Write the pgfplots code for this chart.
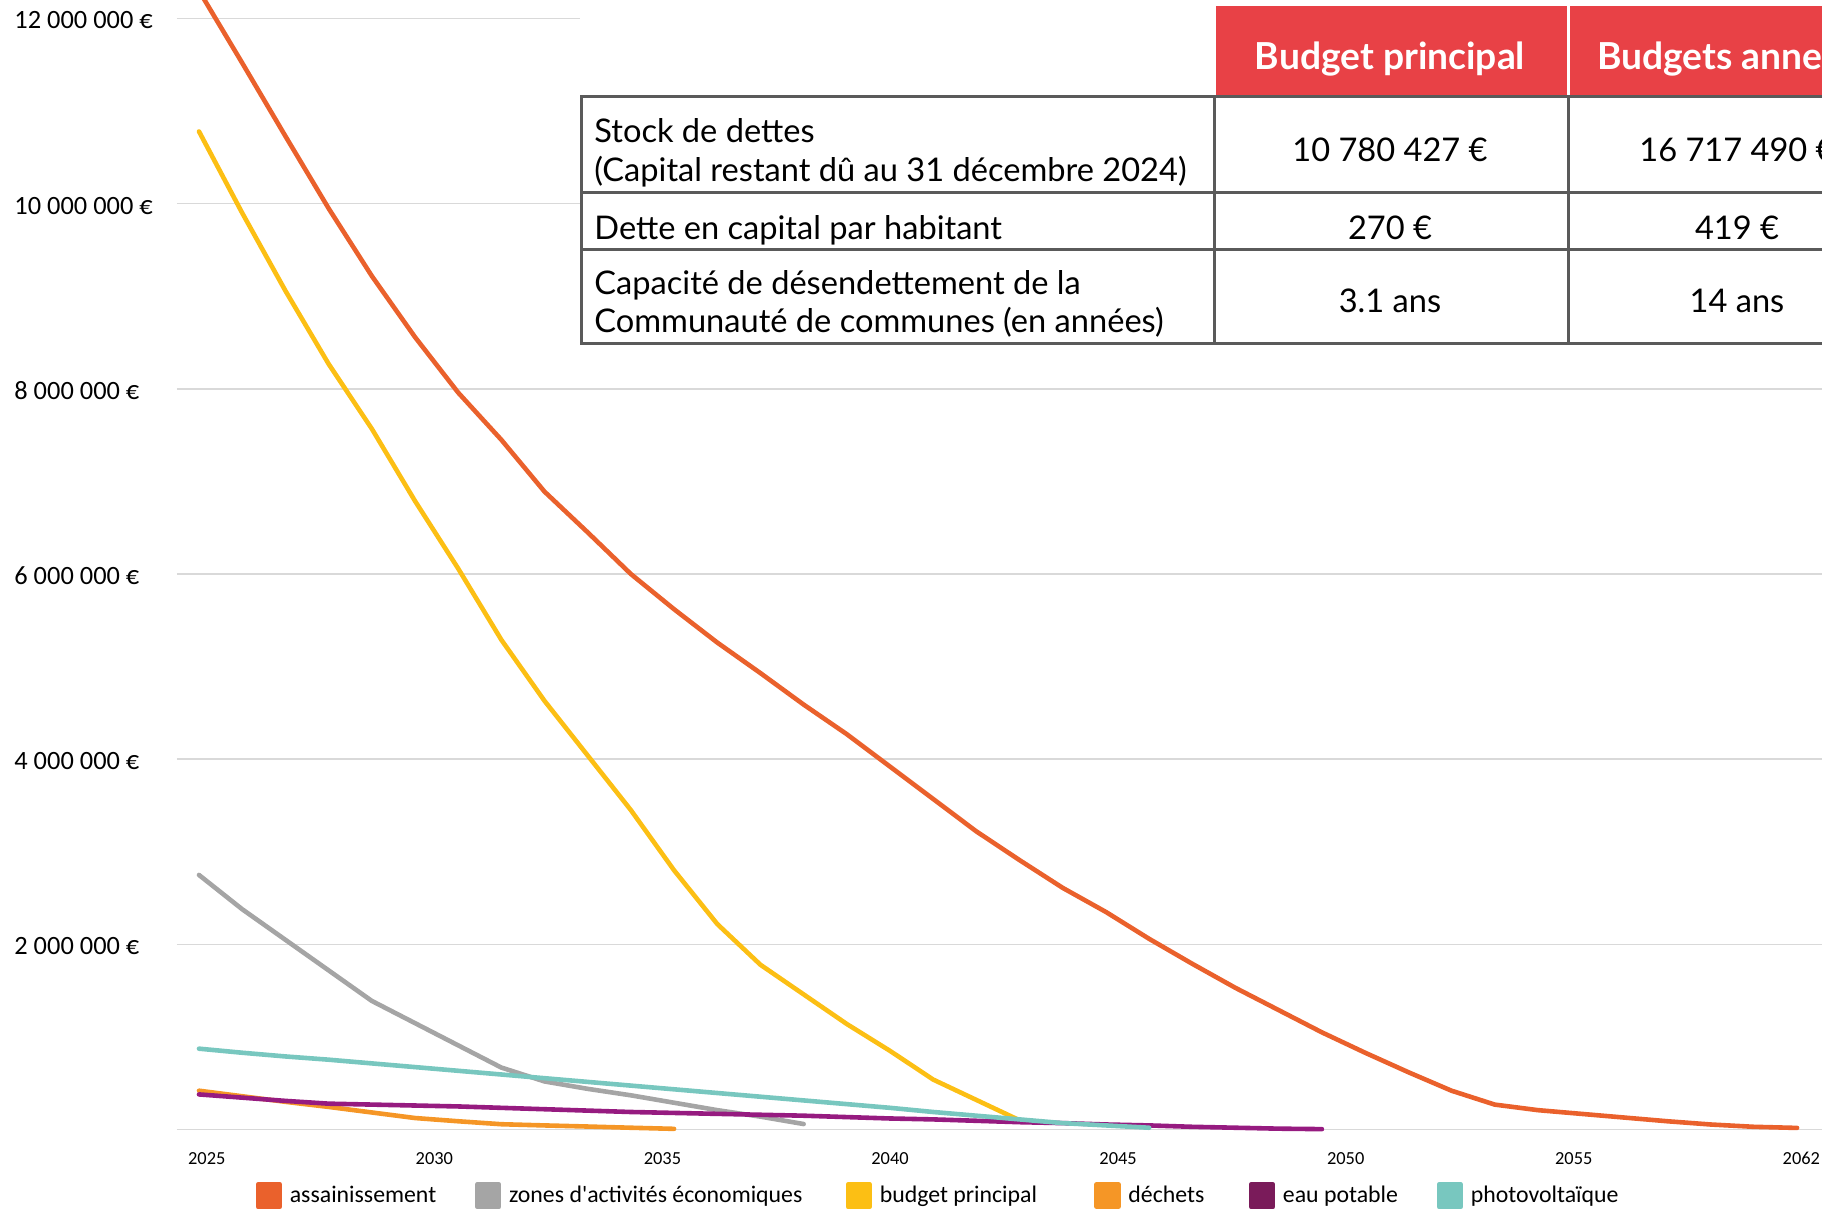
\documentclass[border=0pt]{standalone}
\usepackage{fontspec}
\setmainfont{Carlito}
\newfontfamily\tabfont{Lato}
\usepackage{pgfplots}
\pgfplotsset{compat=1.18}
\definecolor{cAss}{RGB}{234,97,44}
\definecolor{cZone}{RGB}{165,165,165}
\definecolor{cBudget}{RGB}{252,191,20}
\definecolor{cDech}{RGB}{245,150,38}
\definecolor{cEau}{RGB}{150,27,128}
\definecolor{cEauL}{RGB}{122,27,90}
\definecolor{cPhoto}{RGB}{120,199,191}
\definecolor{cHead}{RGB}{232,65,70}
\definecolor{cBorder}{RGB}{90,90,90}
\definecolor{cGrid}{RGB}{217,217,217}
\newcommand{\sq}[1]{\fill[#1] (0pt,-5.5pt) rectangle (11pt,5.5pt);}
\begin{document}
\begin{tikzpicture}[x=0.5pt,y=0.5pt]
\useasboundingbox (0,0) rectangle (1822,1209);
\clip (0,0) rectangle (1822,1209);
\begin{axis}[
  at={(88.5pt,39.7pt)}, anchor=south west,
  scale only axis, width=822.5pt, height=564.8pt,
  xmin=2024.4906, xmax=2062.578, ymin=0, ymax=12.2,
  axis line style={draw=none}, major tick length=0,
  ytick={0,2,4,6,8,10,12},
  yticklabels={,2 000 000 €,4 000 000 €,6 000 000 €,8 000 000 €,10 000 000 €,12 000 000 €},
  yticklabel style={anchor=west, inner sep=0pt, xshift=-81.5pt, yshift=-1pt, font=\fontsize{13.2}{15}\selectfont},
  xtick={2025.18,2030.45,2035.73,2041.00,2046.28,2051.55,2056.83,2062.10},
  xticklabels={2025,2030,2035,2040,2045,2050,2055,2062},
  xticklabel style={anchor=center, inner sep=0pt, yshift=-14.5pt, font=\fontsize{9.2}{11}\selectfont},
  ymajorgrids, grid style={cGrid, line width=0.8pt},
  clip=false,
  legend columns=6,
  legend cell align=left,
  legend style={at={(0.0478,-0.0585)}, anchor=west, draw=none, fill=none, inner sep=0pt, outer sep=0pt,
    font=\fontsize{11.9}{14}\selectfont, nodes={inner sep=0pt},
    /tikz/every odd column/.append style={column sep=3.8pt},
    /tikz/column 2/.style={column sep=19.3pt},
    /tikz/column 4/.style={column sep=21.6pt},
    /tikz/column 6/.style={column sep=28.6pt},
    /tikz/column 8/.style={column sep=22.2pt},
    /tikz/column 10/.style={column sep=19.3pt}},
  every axis plot/.append style={line width=2.3pt, line join=round, line cap=round},
]
\addplot[cAss, legend image code/.code={\sq{cAss}}] coordinates {
(2025,12.30) (2026,11.52) (2027,10.73) (2028,9.95) (2029,9.22) (2030,8.56) (2031,7.96) (2032,7.45) (2033,6.89) (2034,6.45)
(2035,6.00) (2036,5.62) (2037,5.26) (2038,4.93) (2039,4.59) (2040,4.27) (2041,3.92) (2042,3.57) (2043,3.22) (2044,2.91)
(2045,2.61) (2046,2.35) (2047,2.06) (2048,1.79) (2049,1.53) (2050,1.29) (2051,1.05) (2052,0.83) (2053,0.62) (2054,0.42)
(2055,0.27) (2056,0.21) (2057,0.17) (2058,0.13) (2059,0.09) (2060,0.055) (2061,0.03) (2062,0.018)};
\addlegendentry{assainissement}
\addplot[cZone, legend image code/.code={\sq{cZone}}] coordinates {
(2025,2.75) (2026,2.38) (2027,2.05) (2028,1.72) (2029,1.39) (2030,1.15) (2031,0.91) (2032,0.67) (2033,0.52) (2034,0.44)
(2035,0.37) (2036,0.29) (2037,0.21) (2038,0.14) (2039,0.06)};
\addlegendentry{zones d\textquotesingle activités économiques}
\addplot[cBudget, legend image code/.code={\sq{cBudget}}] coordinates {
(2025,10.78) (2026,9.90) (2027,9.06) (2028,8.27) (2029,7.57) (2030,6.79) (2031,6.06) (2032,5.29) (2033,4.63) (2034,4.04)
(2035,3.45) (2036,2.80) (2037,2.22) (2038,1.78) (2039,1.46) (2040,1.14) (2041,0.85) (2042,0.54) (2043,0.32) (2044,0.10)};
\addlegendentry{budget principal}
\addplot[cDech, legend image code/.code={\sq{cDech}}] coordinates {
(2025,0.42) (2026,0.36) (2027,0.30) (2028,0.245) (2029,0.185) (2030,0.125) (2031,0.09) (2032,0.058) (2033,0.045) (2034,0.033)
(2035,0.02) (2036,0.008)};
\addlegendentry{déchets}
\addplot[cEau, legend image code/.code={\sq{cEauL}}] coordinates {
(2025,0.38) (2026,0.345) (2027,0.31) (2028,0.28) (2029,0.27) (2030,0.26) (2031,0.25) (2032,0.235) (2033,0.22) (2034,0.205)
(2035,0.19) (2036,0.18) (2037,0.17) (2038,0.16) (2039,0.15) (2040,0.135) (2041,0.12) (2042,0.11) (2043,0.095) (2044,0.08)
(2045,0.07) (2046,0.055) (2047,0.045) (2048,0.03) (2049,0.02) (2050,0.01) (2051,0.005)};
\addlegendentry{eau potable}
\addplot[cPhoto, legend image code/.code={\sq{cPhoto}}] coordinates {
(2025,0.874) (2026,0.83) (2027,0.79) (2028,0.755) (2029,0.715) (2030,0.675) (2031,0.635) (2032,0.595) (2033,0.555) (2034,0.515)
(2035,0.475) (2036,0.435) (2037,0.395) (2038,0.355) (2039,0.315) (2040,0.275) (2041,0.235) (2042,0.19) (2043,0.15) (2044,0.11)
(2045,0.07) (2046,0.045) (2047,0.02)};
\addlegendentry{photovoltaïque}
\end{axis}
% table
\fill[white] (580,862) rectangle (1822,1209);
\fill[cHead] (1216,1114) rectangle (1566.5,1203);
\fill[cHead] (1570,1114) rectangle (1830,1203);
\begin{scope}[cBorder, line width=1.5pt]
\draw (1830,1112.5) -- (581,1112.5) -- (581,865) -- (1830,865);
\draw (581,1016.5) -- (1830,1016.5);
\draw (581,959) -- (1830,959);
\draw (1214,1112.5) -- (1214,865);
\draw (1568,1112.5) -- (1568,865);
\end{scope}
\begin{scope}[every node/.style={inner sep=0pt, font=\tabfont\fontsize{16.3}{19}\selectfont}]
\node[anchor=base, white, font=\tabfont\bfseries\fontsize{18.6}{22}\selectfont] at (1390,1139.3) {Budget principal};
\node[anchor=base, white, font=\tabfont\bfseries\fontsize{18.6}{22}\selectfont] at (1737,1139.3) {Budgets annexes};
\node[anchor=base west] at (594,1066) {Stock de dettes};
\node[anchor=base west] at (594,1027.7) {(Capital restant dû au 31 décembre 2024)};
\node[anchor=base west] at (594,969.7) {Dette en capital par habitant};
\node[anchor=base west] at (594,914) {Capacité de désendettement de la};
\node[anchor=base west] at (594,876) {Communauté de communes (en années)};
\node[anchor=base] at (1390,1047.5) {10 780 427 €};
\node[anchor=base] at (1737,1047.5) {16 717 490 €};
\node[anchor=base] at (1390,969.7) {270 €};
\node[anchor=base] at (1737,969.7) {419 €};
\node[anchor=base] at (1390,896.4) {3.1 ans};
\node[anchor=base] at (1737,896.4) {14 ans};
\end{scope}
\end{tikzpicture}
\end{document}
